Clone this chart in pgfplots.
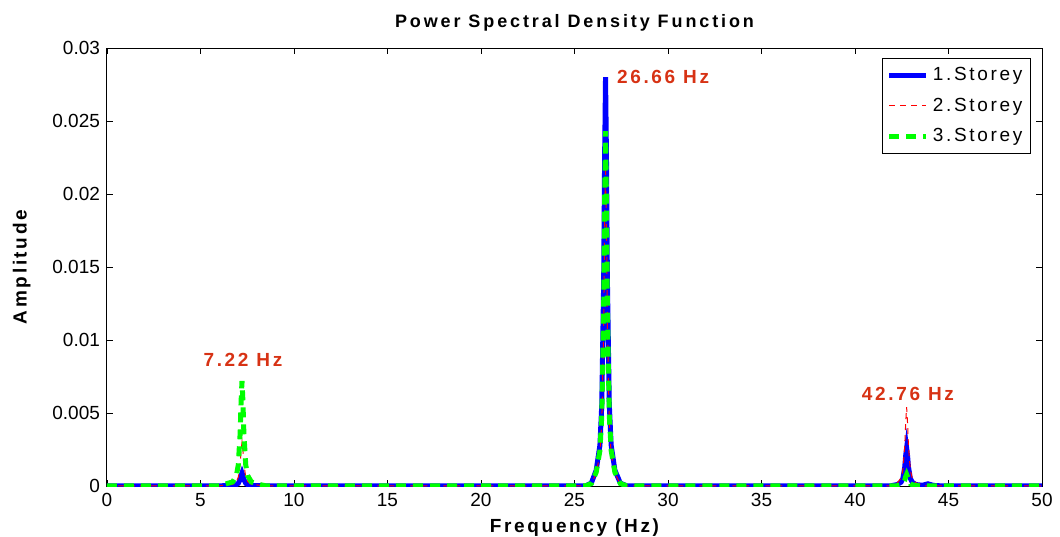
\documentclass[border=0pt]{standalone}
\usepackage{pgfplots}
\pgfplotsset{compat=1.18}
\usepackage{fontspec}
\setmainfont{Liberation Sans}
\newfontfamily\spacedA[LetterSpace=14]{Liberation Sans}
\newfontfamily\spacedT[LetterSpace=16]{Liberation Sans}
\definecolor{annred}{RGB}{215,50,20}
\begin{document}
\begin{tikzpicture}
\begin{axis}[
  at={(0,0)}, anchor=south west,
  scale only axis, width=467.5pt, height=219pt,
  xmin=0, xmax=50, ymin=0, ymax=0.03,
  xtick={0,5,...,50},
  ytick={0,0.005,0.01,0.015,0.02,0.025,0.03},
  yticklabels={0,0.005,0.01,0.015,0.02,0.025,0.03},
  scaled y ticks=false,
  tick align=inside, major tick length=3pt,
  tick style={black, line width=0.4pt},
  axis line style={line width=0.5pt},
  /pgf/number format/assume math mode=true,
  tick label style={font=\fontsize{9.5}{11}\selectfont},
  title={\spacedT\bfseries Power Spectral Density Function},
  title style={font=\fontsize{9}{11}\selectfont, yshift=-1pt},
  xlabel={\spacedA\bfseries Frequency (Hz)},
  ylabel={\spacedA\bfseries Amplitude},
  label style={font=\fontsize{9.5}{11}\selectfont},
  xlabel style={yshift=1pt},
  ylabel style={yshift=4pt},
  legend style={at={(0.988,0.977)}, anchor=north east, draw=black, line width=0.5pt,
    font=\fontsize{9.5}{11}\selectfont\spacedA, row sep=3pt, inner xsep=2pt, inner ysep=2.5pt},
  legend cell align=left,
  legend image code/.code={\draw[#1] (0cm,0cm) -- (0.65cm,0cm);},
]
\addplot[blue, line width=2.5pt] coordinates {
(0,0.00001) (6.0,0.00001) (6.72,0.00004) (6.92,0.00009) (7.02,0.00018) (7.12,0.00045) (7.17,0.00072) (7.22,0.0009) (7.27,0.00072) (7.32,0.00045) (7.42,0.00018) (7.52,0.00009) (7.72,0.00004) (8.4,0.00001)
(25.6,0.00001) (25.9,0.0002) (26.16,0.00108) (26.36,0.0028) (26.46,0.0056) (26.56,0.014) (26.61,0.0224) (26.66,0.028) (26.71,0.0224) (26.76,0.014) (26.86,0.0056) (26.96,0.0028) (27.16,0.00108) (27.45,0.0002) (27.8,0.00001)
(41.9,0.00001) (42.26,0.0001) (42.46,0.00026) (42.56,0.00052) (42.66,0.0013) (42.71,0.00208) (42.76,0.0026) (42.81,0.00208) (42.86,0.0013) (42.96,0.00052) (43.06,0.00026) (43.26,0.0001) (43.6,0.00005) (43.9,0.00015) (44.2,0.00004) (44.6,0.00001) (50,0.00001)
};
\addlegendentry{1.Storey}
\addplot[red, line width=0.5pt, dash pattern=on 3pt off 2.5pt] coordinates {
(0,0.00001) (6.0,0.00001) (6.72,0.000116) (6.92,0.0003) (7.02,0.0006) (7.12,0.0015) (7.17,0.0024) (7.22,0.003) (7.27,0.0024) (7.32,0.0015) (7.42,0.0006) (7.52,0.0003) (7.72,0.000116) (8.4,0.00001)
(25.6,0.00001) (25.9,0.00015) (26.16,0.00085) (26.36,0.0022) (26.46,0.0044) (26.56,0.011) (26.61,0.0176) (26.66,0.022) (26.71,0.0176) (26.76,0.011) (26.86,0.0044) (26.96,0.0022) (27.16,0.00085) (27.45,0.00015) (27.8,0.00001)
(41.9,0.00001) (42.26,0.00021) (42.46,0.00054) (42.56,0.00108) (42.66,0.0027) (42.71,0.00432) (42.76,0.0054) (42.81,0.00432) (42.86,0.0027) (42.96,0.00108) (43.06,0.00054) (43.26,0.00021) (43.76,0.00001) (50,0.00001)
};
\addlegendentry{2.Storey}
\addplot[green, line width=2.5pt, dash pattern=on 5pt off 3.5pt] coordinates {
(0,0.00001) (6.0,0.00001) (6.72,0.00028) (6.92,0.00072) (7.02,0.00144) (7.12,0.0036) (7.17,0.00576) (7.22,0.0072) (7.27,0.00576) (7.32,0.0036) (7.42,0.00144) (7.52,0.00072) (7.72,0.00028) (8.1,0.00012) (8.5,0.00001)
(25.6,0.00001) (25.9,0.00017) (26.16,0.00094) (26.36,0.00243) (26.46,0.00486) (26.56,0.01215) (26.61,0.01944) (26.66,0.0243) (26.71,0.01944) (26.76,0.01215) (26.86,0.00486) (26.96,0.00243) (27.16,0.00094) (27.45,0.00017) (27.8,0.00001)
(42.2,0.00001) (42.46,0.00008) (42.56,0.00016) (42.66,0.0004) (42.71,0.00064) (42.76,0.0008) (42.81,0.00064) (42.86,0.0004) (42.96,0.00016) (43.06,0.00008) (43.4,0.00001) (50,0.00001)
};
\addlegendentry{3.Storey}
\node[anchor=west, text=annred, font=\fontsize{9.5}{11}\selectfont\spacedA\bfseries] at (axis cs:26.9,0.028) {26.66 Hz};
\node[text=annred, font=\fontsize{9.5}{11}\selectfont\spacedA\bfseries] at (axis cs:7.27,0.00863) {7.22 Hz};
\node[text=annred, font=\fontsize{9.5}{11}\selectfont\spacedA\bfseries] at (axis cs:42.83,0.0063) {42.76 Hz};
\end{axis}
\pgfresetboundingbox
\useasboundingbox (-53.5pt,-25pt) rectangle (476.5pt,243pt);
\end{tikzpicture}
\end{document}
